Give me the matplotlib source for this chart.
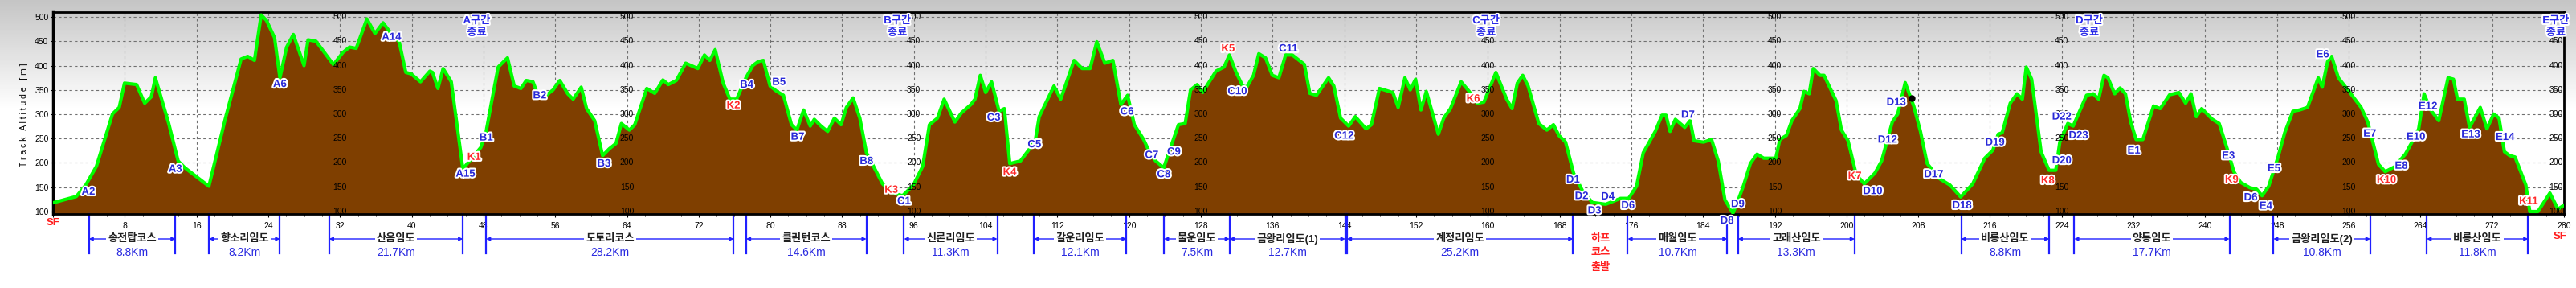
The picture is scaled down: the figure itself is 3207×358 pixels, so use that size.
# -*- coding: utf-8 -*-

import numpy as np
import matplotlib.pyplot as plt
import matplotlib.patheffects as pe
from matplotlib.transforms import blended_transform_factory

plt.rcParams['font.family'] = ['Liberation Sans', 'Noto Sans CJK KR', 'DejaVu Sans']

# 고도 프로파일 (거리 km, 고도 m)
dist_km = [0.0, 2.6, 3.65, 4.84, 6.63, 7.38, 7.97, 9.32, 10.22, 10.96, 11.41, 12.9, 13.95, 14.7,
           17.38, 19.2, 20.97, 21.71, 22.46, 23.21, 23.8, 24.7, 25.3, 26.05, 26.8, 27.99, 28.44,
           29.33, 31.27, 32.32, 33.07, 33.81, 35.0, 35.9, 36.8, 37.7, 38.6, 39.34, 39.93, 40.98,
           42.03, 42.32, 42.92, 43.5, 44.41, 45.7, 47.7, 48.3, 48.9, 49.64, 50.68, 51.43, 52.18,
           52.77, 53.52, 53.97, 55.01, 55.76, 56.51, 57.4, 58.0, 58.9, 59.5, 60.4, 61.29, 62.03,
           62.78, 63.38, 64.27, 64.87, 66.21, 67.1, 68.01, 68.61, 69.51, 70.55, 71.9, 72.64, 73.24,
           73.84, 74.73, 75.48, 76.23, 77.27, 78.02, 78.62, 79.21, 79.96, 80.71, 81.45, 82.35,
           82.95, 83.7, 84.44, 84.89, 85.64, 86.38, 87.13, 87.88, 88.47, 89.22, 89.97, 90.71, 91.5,
           92.5, 93.7, 94.74, 95.94, 96.98, 97.73, 98.63, 99.37, 100.57, 101.31, 102.36, 102.81,
           103.4, 104.0, 104.66, 105.5, 106.09, 106.69, 107.88, 108.78, 109.53, 109.97, 111.62,
           112.37, 113.86, 114.76, 115.65, 116.39, 117.29, 118.19, 119.08, 119.83, 120.58, 121.62,
           122.37, 122.96, 123.86, 124.31, 125.5, 126.25, 126.85, 127.59, 128.19, 129.69, 130.58,
           131.18, 131.93, 132.67, 133.12, 133.87, 134.46, 135.21, 135.96, 136.7, 137.45, 138.2,
           139.54, 140.15, 140.89, 142.24, 142.83, 143.58, 144.48, 145.22, 146.42, 147.02, 147.91,
           149.41, 150.0, 150.75, 151.35, 151.94, 152.54, 153.14, 154.48, 155.08, 155.83, 157.02,
           157.92, 158.81, 159.56, 160.9, 162.1, 162.7, 163.29, 163.89, 164.49, 165.68, 166.58,
           167.32, 167.92, 168.67, 169.56, 170.61, 171.65, 173.15, 174.79, 175.69, 176.58, 177.33,
           178.08, 178.67, 179.42, 179.87, 180.32, 180.91, 181.96, 182.56, 183.0, 184.05, 184.95,
           185.69, 186.44, 187.34, 187.93, 188.53, 189.27, 190.02, 190.77, 192.11, 192.56, 193.3,
           193.9, 194.8, 195.25, 195.84, 196.29, 197.04, 197.49, 198.83, 199.43, 200.17, 201.07,
           201.97, 203.16, 203.91, 205.1, 205.7, 206.54, 207.49, 208.24, 208.99, 209.73, 210.33,
           211.53, 212.73, 214.07, 215.41, 216.31, 216.91, 217.36, 218.25, 219.0, 219.6, 220.04,
           220.64, 221.69, 222.58, 223.33, 223.78, 224.67, 225.27, 226.76, 227.51, 228.11, 228.71,
           229.15, 229.9, 230.5, 231.1, 231.69, 232.29, 233.04, 234.23, 234.98, 236.02, 237.06,
           237.81, 238.41, 239.0, 239.6, 240.8, 241.55, 242.59, 243.19, 243.94, 244.98, 245.73,
           246.33, 247.07, 248.12, 248.86, 249.76, 250.51, 251.4, 252.6, 253.04, 253.64, 254.09,
           254.84, 256.03, 257.38, 258.12, 259.32, 260.07, 261.11, 262.31, 263.05, 263.8, 264.4,
           265.14, 266.04, 267.08, 267.68, 268.13, 268.88, 269.47, 270.67, 271.41, 272.16, 272.76,
           273.36, 273.95, 274.55, 275.75, 276.19, 277.09, 278.43, 279.33, 280.0]
alt_m = [118, 131, 154.5, 193, 300.5, 314, 364, 361, 322.6, 336, 375, 281, 204, 190,
         152, 290, 413.5, 419, 410.7, 504, 493, 457.6, 375, 438, 464, 400, 453,
         450, 402, 427, 438, 435.5, 496, 466, 488, 466, 449, 386, 383, 366.7,
         388.7, 386, 353, 394, 366.7, 187.6, 231.7, 264.7, 325, 397, 416, 358, 353,
         369.4, 366.7, 344.6, 339, 350, 369.4, 342, 331, 355.6, 311.6, 286.8, 215, 229,
         240, 281, 267.5, 278.5, 353, 343, 370.5, 361, 369.4, 405, 394, 421.8, 410.7,
         432.8, 364, 331, 331, 375, 400, 408, 410.7, 358, 347, 339, 278.5,
         267.5, 308.8, 275.7, 289.5, 275.7, 264.7, 292, 278.5, 314, 333.6, 292, 220.7, 193,
         157, 138, 132.5, 154.5, 193, 278.5, 292, 331, 284, 303, 320, 331,
         380, 344.6, 366.7, 306, 311.6, 198.6, 204, 226, 245.5, 295, 358,
         331, 410.7, 394, 394, 449, 405, 410.7, 320, 339, 278.5, 248,
         218, 204, 190, 215, 278.5, 281, 350, 361, 344.6, 388.7, 397,
         421.8, 386, 358, 355.6, 380, 424.5, 416, 380, 375, 421.8, 421.8,
         402.5, 343, 339, 375, 358, 292, 275.7, 295, 270, 278.5, 353,
         344.6, 314, 375, 350, 372, 308.8, 347, 259, 292, 311.6, 366.7,
         347, 322.6, 325, 386, 331, 311.6, 364, 380, 358, 281, 267.5,
         278.5, 256.5, 242.7, 179, 140.8, 118.7, 115, 127, 127, 151.8, 220.7,
         245.5, 264.7, 298, 298, 264.7, 289.5, 273, 286.8, 245.5, 242.7, 248,
         204, 124, 96.7, 124, 154.5, 198.6, 218, 209.6, 209.6, 248, 256.5,
         286.8, 311.6, 347, 342, 394, 380, 380, 328, 267.5, 245.5, 176.6,
         157, 179, 204, 284, 300.5, 365, 317, 264.7, 198.6, 182, 168,
         154.5, 130, 157, 209.6, 226, 259, 262, 322.6, 342, 331, 397,
         372, 223, 184.8, 184.8, 242.7, 281, 275.7, 339, 342, 331, 380,
         375, 342, 354, 342, 284, 248, 248, 317, 311.6, 340, 344.6,
         322.6, 342, 295, 311.6, 289.5, 281, 220.7, 182, 160, 149, 146,
         132.5, 151.8, 212.4, 262, 306, 308.8, 314, 375, 355.6, 408, 419,
         375, 347, 314, 284, 197, 182, 192, 218, 242.7, 270, 342,
         308.8, 286.8, 375, 372, 331, 331, 273, 314, 270, 300.5, 292,
         223, 215, 212, 154.5, 100, 100, 138, 105, 113]

# 지점 표시
wp_names = ['A2', 'A3', 'A6', 'A14', 'A15', 'K1', 'B1', 'B2', 'B3', 'K2', 'B4', 'B5', 'B7', 'B8',
            'K3', 'C1', 'C3', 'K4', 'C5', 'C6', 'C7', 'C8', 'C9', 'K5', 'C10', 'C11', 'C12', 'K6',
            'D1', 'D2', 'D3', 'D4', 'D6', 'D7', 'D8', 'D9', 'K7', 'D10', 'D12', 'D13', 'D17', 'D18',
            'D19', 'K8', 'D20', 'D22', 'D23', 'E1', 'E3', 'K9', 'D6', 'E4', 'E5', 'E6', 'E7', 'K10',
            'E8', 'E10', 'E12', 'E13', 'E14', 'K11']
wp_km = [3.94, 13.65, 25.3, 37.76, 46.0, 46.95, 48.3, 54.27, 61.44, 75.87, 77.36, 80.95, 83.04, 90.71,
         93.49, 94.89, 104.9, 106.69, 109.44, 119.77, 122.52, 123.86, 124.99, 131.03, 132.07, 137.75,
         143.97, 158.37, 169.5, 170.46, 171.9, 173.39, 175.63, 182.32, 186.67, 187.87, 200.92, 202.92,
         204.57, 205.55, 209.73, 212.87, 216.55, 222.43, 224.0, 224.0, 225.87, 232.05, 242.59, 242.95,
         245.07, 246.77, 247.67, 253.1, 258.36, 260.21, 261.86, 263.5, 264.84, 269.62, 273.45, 276.05]
wp_alt = [139.7, 186.5, 361, 457.6, 176.6, 211, 251, 337.5, 197.5, 317, 359.5, 365, 252.6, 202.5,
          143.5, 120.4, 292, 180, 237, 304.4, 215, 175.5, 221.8, 433.9, 346, 433.9,
          254.8, 330.8, 164.5, 130.8, 101, 129.8, 111.6, 297.8, 80, 114.3, 172, 140.8,
          246.6, 323.7, 175.5, 111.6, 241, 162.8, 204, 294, 255.4, 224.2, 213.5, 164.5,
          128, 110.5, 187.6, 421.8, 259.2, 164, 193, 252.6, 315.4, 257.5, 252, 120.4]

# 구간 종료
end_names = ['A구간\n종료', 'B구간\n종료', 'C구간\n종료', 'D구간\n종료', 'E구간\n종료']
end_km = [47.25, 94.15, 159.8, 227.06, 279.09]

# 코스 구간
sec_names = ['송전탑코스', '향소리임도', '산음임도', '도토리코스', '클린턴코스', '신론리임도',
             '갈운리임도', '물운임도', '금왕리임도(1)', '계정리임도', '매월임도', '고래산임도',
             '비룡산임도', '양동임도', '금왕리임도(2)', '비룡산임도']
sec_len = ['8.8Km', '8.2Km', '21.7Km', '28.2Km', '14.6Km', '11.3Km', '12.1Km', '7.5Km',
           '12.7Km', '25.2Km', '10.7Km', '13.3Km', '8.8Km', '17.7Km', '10.8Km', '11.8Km']
sec_start = [4.0, 17.4, 30.8, 48.3, 77.3, 94.9, 109.4, 123.9, 131.2, 144.3, 175.6, 187.9,
             212.8, 225.4, 247.6, 264.7]
sec_end = [13.65, 25.3, 45.7, 75.9, 90.7, 105.3, 119.7, 131.2, 144.1, 169.5, 186.7, 200.9,
           222.6, 242.7, 258.4, 276.0]

x_ticks = list(range(0, 281, 8))
y_ticks = list(range(100, 501, 50))
inner_label_km = [32, 64, 96, 128, 160, 192, 224, 256]


def main():
    fig = plt.figure(figsize=(32.07, 3.58), dpi=100)

    # 배경 그라데이션
    bg = fig.add_axes([0, 0, 1, 1], zorder=-10)
    rows = np.linspace(0, 1, 358)
    shade = np.clip(0.77 + rows / 0.38 * 0.23, 0, 1)
    bg.imshow(np.repeat(shade[:, None], 2, axis=1), cmap='gray', vmin=0, vmax=1,
              aspect='auto', extent=[0, 1, 0, 1])
    bg.axis('off')

    ax = fig.add_axes([66 / 3207, 1 - 266 / 358, 3126 / 3207, 251 / 358])
    ax.set_facecolor('none')
    ax.set_xlim(0, 280)
    ax.set_ylim(95, 510)

    ax.fill_between(dist_km, alt_m, 95, color='#7f3f00', lw=0, zorder=2)
    ax.plot(dist_km, alt_m, color='#00ff00', lw=3, zorder=3, solid_joinstyle='round')
    ax.plot(207.3, 333, 'o', color='black', ms=5, zorder=4)

    ax.set_axisbelow(True)
    ax.set_xticks(x_ticks)
    ax.set_xticklabels(['' if v == 0 else str(v) for v in x_ticks])
    ax.set_xticks(range(0, 281, 2), minor=True)
    ax.set_yticks(y_ticks)
    ax.grid(True, ls=(0, (3, 3)), color='#707070', lw=0.8)
    ax.tick_params(axis='x', which='major', labelsize=7.5, length=3, pad=4)
    ax.tick_params(axis='x', which='minor', length=2)
    ax.tick_params(axis='y', labelsize=7.5, length=2, pad=2)
    for s in ax.spines.values():
        s.set_linewidth(2)
    ax.spines['left'].set_linewidth(2.5)

    # 안쪽 고도 눈금
    for xk in inner_label_km:
        for v in y_ticks:
            ax.text(xk, v, str(v), ha='center', va='center', fontsize=7.5, zorder=4)
    for v in y_ticks:
        ax.text(279.9, v, str(v), ha='right', va='center', fontsize=7.5, zorder=4)

    fig.text(30 / 3207, 1 - 143 / 358, 'T r a c k   A l t i t u d e   [ m ]',
             rotation=90, ha='center', va='center', fontsize=7.5)

    outline = [pe.withStroke(linewidth=3, foreground='white')]
    for name, xk, yv in zip(wp_names, wp_km, wp_alt):
        col = '#ff2a2a' if name.startswith('K') else '#2828d8'
        ax.text(xk, yv, name, color=col, fontsize=9.5, fontweight='bold', ha='center',
                va='center', zorder=5, path_effects=outline, clip_on=False)
    for name, xk in zip(end_names, end_km):
        ax.text(xk, 479.6, name, color='#2828e8', fontsize=9.5, fontweight='bold',
                ha='center', va='center', linespacing=1.3, zorder=5,
                path_effects=outline, clip_on=False)

    trans = blended_transform_factory(ax.transData, ax.transAxes)
    ax.text(0, -0.045, 'SF', transform=trans, color='#ff2020', fontsize=9.5,
            fontweight='bold', ha='center', va='center')
    ax.text(279.6, -0.11, 'SF', transform=trans, color='#ff2020', fontsize=9.5,
            fontweight='bold', ha='center', va='center')

    bounds = sorted(set(sec_start + sec_end))
    for b in bounds:
        ax.plot([b, b], [0, -0.195], transform=trans, color='#2020ff', lw=1.6, clip_on=False)

    for name, ln, s, e in zip(sec_names, sec_len, sec_start, sec_end):
        ax.annotate('', xy=(s, -0.1235), xytext=(e, -0.1235), xycoords=trans,
                    textcoords=trans, annotation_clip=False,
                    arrowprops=dict(arrowstyle='<|-|>', color='#2020ff', lw=1,
                                    mutation_scale=7, shrinkA=0, shrinkB=0))
        mid = (s + e) / 2
        ax.text(mid, -0.1235, name, transform=trans, ha='center', va='center',
                fontsize=9.5, fontweight='bold', color='#202020',
                bbox=dict(fc='white', ec='none', pad=1.5))
        ax.text(mid, -0.191, ln, transform=trans, ha='center', va='center',
                fontsize=10, color='#2a2ae0')

    for txt, yy in zip(['하프', '코스', '출발'], [-0.1235, -0.191, -0.267]):
        ax.text(172.55, yy, txt, transform=trans, ha='center', va='center',
                fontsize=9.5, fontweight='bold', color='#ff2020')

    fig.savefig('out.png', dpi=100)


if __name__ == '__main__':
    main()
